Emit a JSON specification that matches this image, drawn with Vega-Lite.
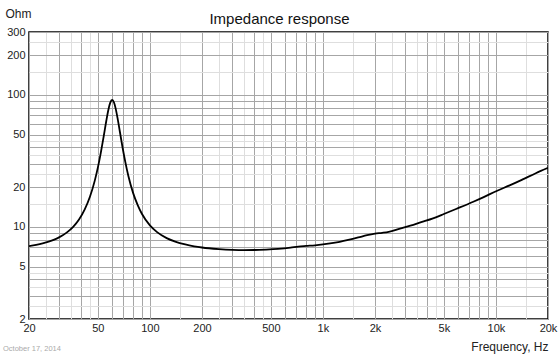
{
  "$schema": "https://vega.github.io/schema/vega-lite/v6.json",
  "width": 519,
  "height": 287,
  "autosize": {"type": "none"},
  "padding": {"left": 29, "top": 32, "right": 12, "bottom": 35},
  "background": "white",
  "config": {
    "font": "Liberation Sans",
    "view": {"stroke": "#000", "strokeWidth": 1.5},
    "axis": {"labelFont": "Liberation Sans", "titleFont": "Liberation Sans", "labelColor": "#222", "titleColor": "#222", "titleFontWeight": "normal"}
  },
  "title": {"text": "Impedance response", "fontSize": 15, "fontWeight": "normal", "color": "#111", "font": "Liberation Sans", "anchor": "middle", "frame": "group", "baseline": "alphabetic", "dx": -9, "dy": 40, "offset": 8},
  "datasets": {
    "curve": [
      {"f": 20, "z": 7.13}, {"f": 22, "z": 7.29}, {"f": 24, "z": 7.48}, {"f": 26, "z": 7.71},
      {"f": 28, "z": 8.0}, {"f": 30, "z": 8.35}, {"f": 33, "z": 9.04}, {"f": 36, "z": 10.0},
      {"f": 39, "z": 11.42}, {"f": 42, "z": 13.55}, {"f": 45, "z": 16.89}, {"f": 48, "z": 22.4},
      {"f": 50, "z": 28.1}, {"f": 52, "z": 36.4}, {"f": 54, "z": 48.2}, {"f": 56, "z": 64.0},
      {"f": 57.5, "z": 76.9}, {"f": 59, "z": 87.4}, {"f": 60.5, "z": 91.5}, {"f": 62, "z": 87.6},
      {"f": 63.5, "z": 78.1}, {"f": 65, "z": 66.7}, {"f": 67, "z": 52.8}, {"f": 69, "z": 42.1},
      {"f": 72, "z": 31.2}, {"f": 75, "z": 24.4}, {"f": 80, "z": 18.0}, {"f": 85, "z": 14.6},
      {"f": 90, "z": 12.5}, {"f": 100, "z": 10.25}, {"f": 110, "z": 9.11}, {"f": 125, "z": 8.21},
      {"f": 140, "z": 7.73}, {"f": 160, "z": 7.35}, {"f": 180, "z": 7.12}, {"f": 200, "z": 6.97},
      {"f": 250, "z": 6.78}, {"f": 300, "z": 6.69}, {"f": 350, "z": 6.66}, {"f": 400, "z": 6.67},
      {"f": 470, "z": 6.72}, {"f": 550, "z": 6.8}, {"f": 650, "z": 6.95}, {"f": 720, "z": 7.08},
      {"f": 800, "z": 7.16}, {"f": 900, "z": 7.24}, {"f": 1000, "z": 7.35}, {"f": 1100, "z": 7.48},
      {"f": 1250, "z": 7.7}, {"f": 1400, "z": 7.95}, {"f": 1600, "z": 8.3}, {"f": 1800, "z": 8.65},
      {"f": 2000, "z": 8.88}, {"f": 2200, "z": 9.0}, {"f": 2400, "z": 9.15}, {"f": 2790, "z": 9.7},
      {"f": 3200, "z": 10.2}, {"f": 3700, "z": 10.85}, {"f": 4330, "z": 11.6}, {"f": 5000, "z": 12.5},
      {"f": 6000, "z": 13.8}, {"f": 7400, "z": 15.5}, {"f": 8500, "z": 16.8}, {"f": 10100, "z": 18.7},
      {"f": 12000, "z": 20.6}, {"f": 14400, "z": 23.0}, {"f": 17000, "z": 25.5}, {"f": 20000, "z": 28.0}
    ],
    "note": [{"f": 20, "z": 2, "label": "October 17, 2014"}]
  },
  "layer": [
    {
      "data": {"name": "curve"},
      "mark": {"type": "line", "color": "#000", "strokeWidth": 1.8, "interpolate": "monotone", "clip": true},
      "encoding": {
        "x": {
          "field": "f", "type": "quantitative",
          "scale": {"type": "log", "domain": [20, 20000], "nice": false},
          "axis": {
            "title": "Frequency, Hz", "titleFontSize": 12, "titleAnchor": "end", "titleAlign": "right", "titleX": 519, "titleY": 31, "titleBaseline": "alphabetic",
            "values": [20,25,30,35,40,45,50,60,70,80,90,100,150,200,250,300,350,400,450,500,600,700,800,900,1000,1500,2000,2500,3000,3500,4000,4500,5000,6000,7000,8000,9000,10000,15000,20000],
            "labelExpr": "indexof([20,50,100,200,500,1000,2000,5000,10000,20000], datum.value) >= 0 ? (datum.value >= 1000 ? (datum.value/1000) + 'k' : '' + datum.value) : ''",
            "labelOverlap": false, "labelFlush": false, "labelFontSize": 11, "labelPadding": 3,
            "ticks": false, "domain": false,
            "grid": true, "gridWidth": 1,
            "gridColor": {"condition": {"test": "(datum.value / pow(10, floor(log(datum.value)/LN10 + 1e-9))) % 1 > 0.01", "value": "#dedede"}, "value": "#a6a6a6"}
          }
        },
        "y": {
          "field": "z", "type": "quantitative",
          "scale": {"type": "log", "domain": [2, 300], "nice": false},
          "axis": {
            "title": "Ohm", "titleFontSize": 12, "titleAngle": 0, "titleAlign": "left", "titleBaseline": "alphabetic", "titleX": -24, "titleY": -15,
            "values": [2,2.5,3,3.5,4,4.5,5,6,7,8,9,10,15,20,25,30,35,40,45,50,60,70,80,90,100,150,200,250,300],
            "labelExpr": "indexof([2,5,10,20,50,100,200,300], datum.value) >= 0 ? '' + datum.value : ''",
            "labelOverlap": false, "labelFlush": false, "labelFontSize": 11, "labelPadding": 4,
            "ticks": false, "domain": false,
            "grid": true, "gridWidth": 1,
            "gridColor": {"condition": {"test": "(datum.value / pow(10, floor(log(datum.value)/LN10 + 1e-9))) % 1 > 0.01", "value": "#dedede"}, "value": "#a6a6a6"}
          }
        }
      }
    },
    {
      "data": {"name": "note"},
      "mark": {"type": "text", "align": "left", "baseline": "alphabetic", "dx": -26, "dy": 32, "fontSize": 7.5, "color": "#aaaaaa", "font": "Liberation Sans"},
      "encoding": {
        "x": {"datum": 20, "type": "quantitative"},
        "y": {"datum": 2, "type": "quantitative"},
        "text": {"field": "label"}
      }
    }
  ]
}
